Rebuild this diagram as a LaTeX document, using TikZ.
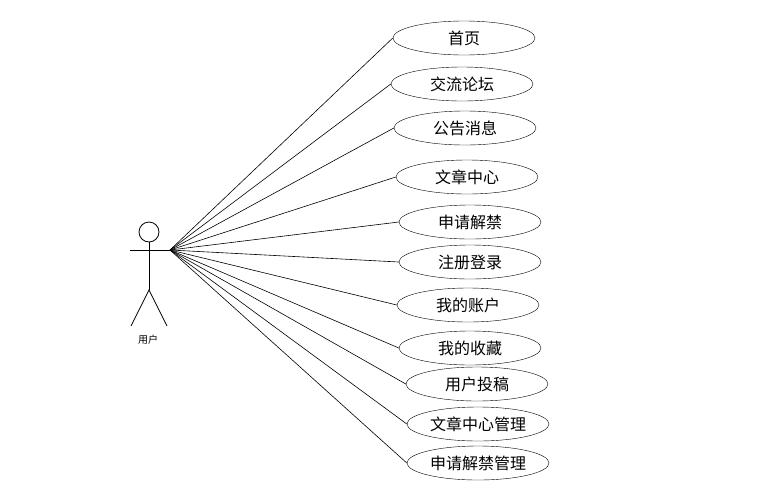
\documentclass[tikz,border=0pt]{standalone}
\usepackage{fontspec}
\newfontfamily\cjk{Noto Sans CJK SC}
\usetikzlibrary{shapes.geometric}
\tikzset{
    usecase/.style={ellipse, draw=black, fill=white, minimum width=142pt, minimum height=34pt, inner sep=0pt, font=\cjk\fontsize{16}{16}\selectfont},
    actorline/.style={draw=black, line width=0.8pt},
    assoc/.style={draw=black, line width=0.6pt}
}
\begin{document}
\begin{tikzpicture}[x=1pt, y=-1pt]
    \useasboundingbox (0,0) rectangle (783,501);
    % actor
    \node[circle, draw, line width=0.8pt, minimum size=20pt, inner sep=0pt] (head) at (149,232) {};
    \coordinate (hip) at (149,290);
    \coordinate (hand) at (170,250);
    \coordinate (lhand) at (130,250);
    \coordinate (lfoot) at (131,326);
    \coordinate (rfoot) at (167,326);
    \draw[actorline] (head.south) -- (hip);
    \draw[actorline] (lhand) -- (hand);
    \draw[actorline] (lfoot) -- (hip) -- (rfoot);
    \node[font=\cjk\fontsize{10}{10}\selectfont] (user) at (148,340) {用户};

    % use cases
    \node[usecase] (uc1) at (464,38) {首页};
    \node[usecase] (uc2) at (462,84) {交流论坛};
    \node[usecase] (uc3) at (465,128) {公告消息};
    \node[usecase] (uc4) at (467,177) {文章中心};
    \node[usecase] (uc5) at (470,222) {申请解禁};
    \node[usecase] (uc6) at (470,262) {注册登录};
    \node[usecase] (uc7) at (468,305) {我的账户};
    \node[usecase] (uc8) at (470,348) {我的收藏};
    \node[usecase] (uc9) at (477,384) {用户投稿};
    \node[usecase] (uc10) at (478,424) {文章中心管理};
    \node[usecase] (uc11) at (478,463) {申请解禁管理};

    % associations
    \foreach \i in {1,...,11}
        \draw[assoc] (hand) -- (uc\i.west);
\end{tikzpicture}
\end{document}
